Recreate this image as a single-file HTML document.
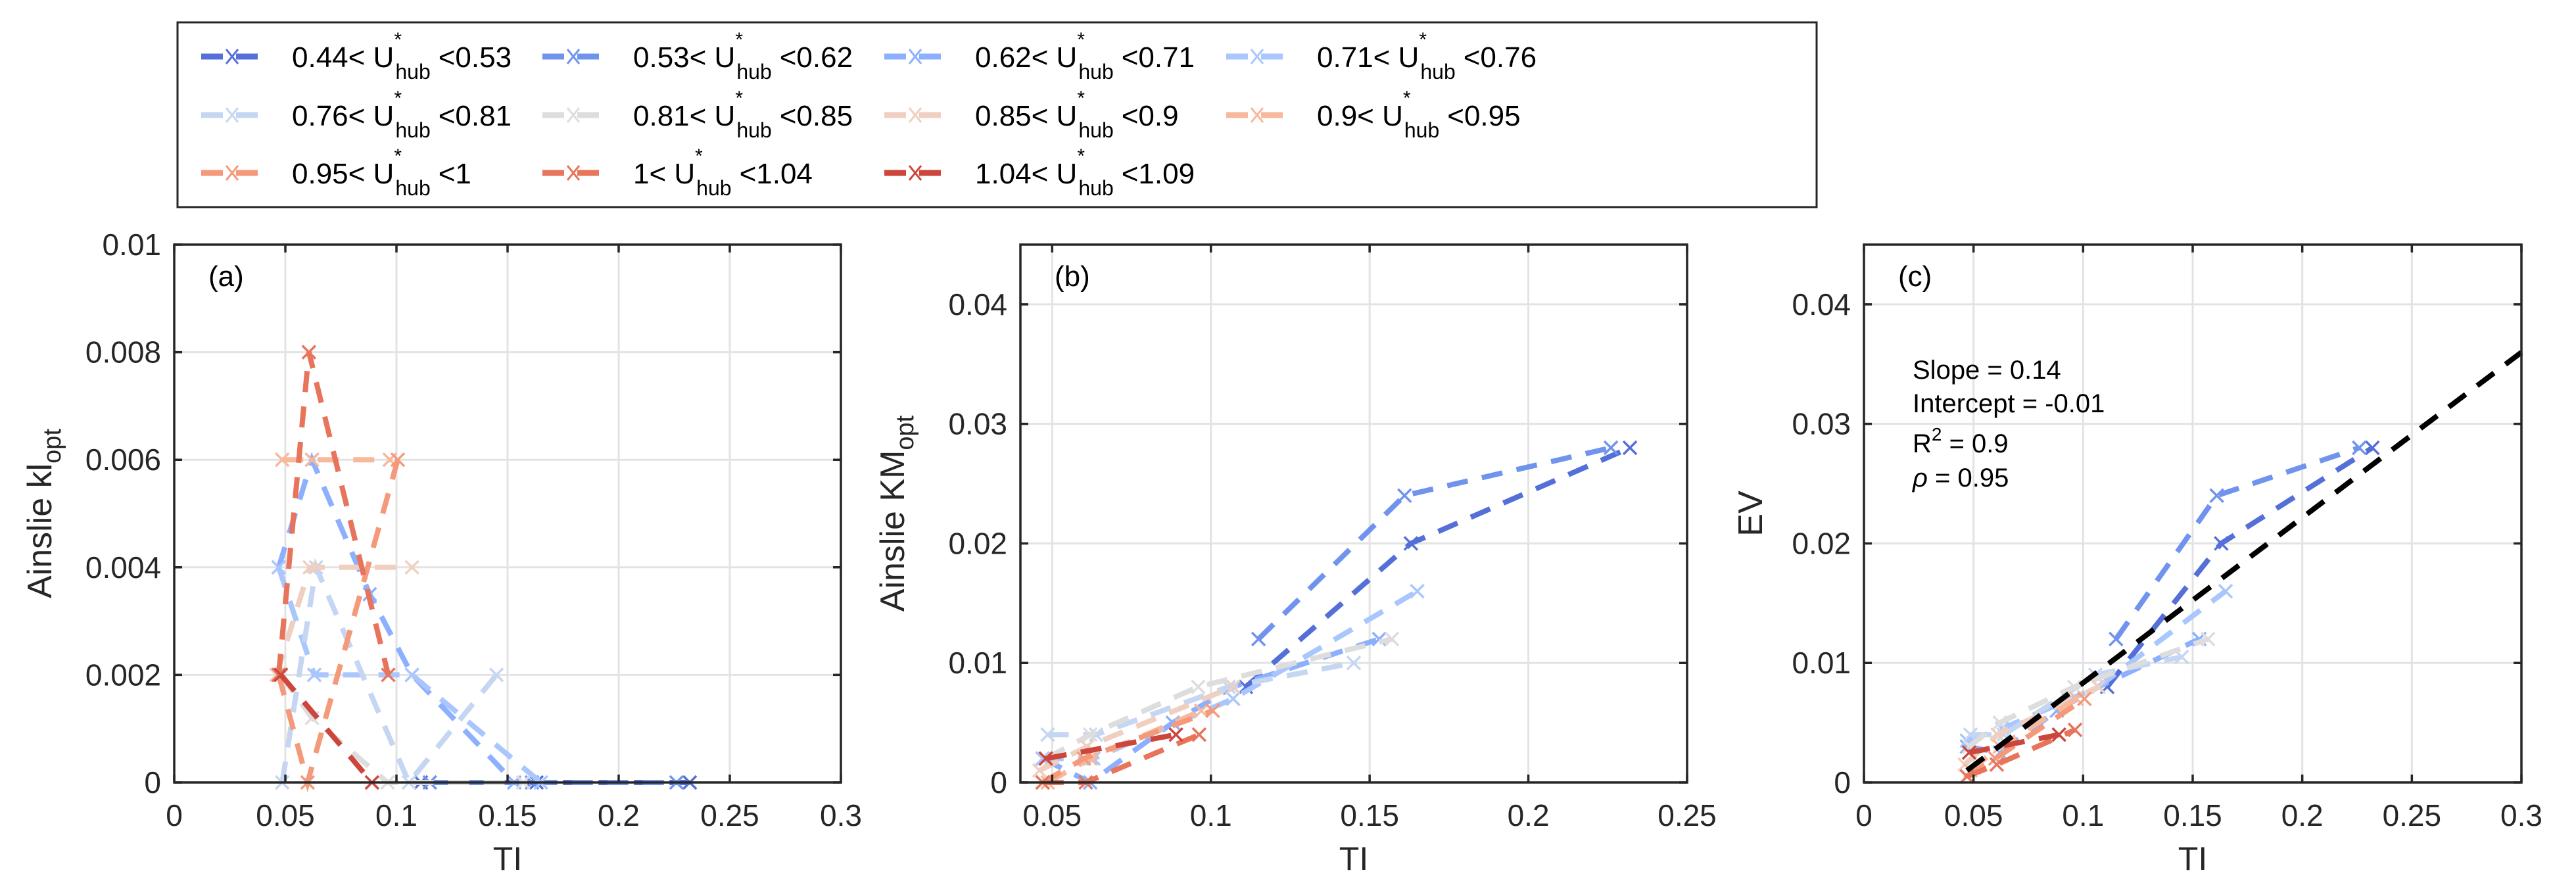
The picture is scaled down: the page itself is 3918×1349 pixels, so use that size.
<!DOCTYPE html>
<html><head><meta charset="utf-8"><style>
html,body{margin:0;padding:0;background:#fff;}
svg{display:block;font-family:"Liberation Sans",sans-serif;}
</style></head><body>
<svg id="fig" width="3918" height="1349" viewBox="0 0 3918 1349" xmlns="http://www.w3.org/2000/svg"></svg>
<script>
// ---- data ----
const seriesLabels = [["0.44","0.53"],["0.53","0.62"],["0.62","0.71"],["0.71","0.76"],["0.76","0.81"],["0.81","0.85"],["0.85","0.9"],["0.9","0.95"],["0.95","1"],["1","1.04"],["1.04","1.09"]];
const seriesColors = ["#5470d8","#7094ee","#8db0fe","#a9c6fd","#c5d6f2","#dddddd","#efcfbf","#f7b89c","#f49a7b","#e7745b","#cd463c"];
const tiValues = [
 [0.111,0.163,0.232],
 [0.115,0.161,0.226],
 [0.047,0.062,0.088,0.107,0.153],
 [0.047,0.063,0.107,0.165],
 [0.0486,0.0638,0.1056,0.145],
 [0.048,0.062,0.096,0.157],
 [0.046,0.061,0.107],
 [0.0486,0.062,0.097],
 [0.047,0.060,0.1006],
 [0.047,0.0606,0.0963],
 [0.048,0.089]
];
const klValues = [
 [0,0,0],[0,0,0],[0.004,0.006,0.0035,0.002,0],[0.004,0.002,0.002,0],[0,0.004,0,0.002],
 [0.002,0.0012,0,0],[0.002,0.004,0.004],[0.006,0.006,0.006],[0.002,0,0.006],[0.002,0.008,0.002],[0.002,0]
];
const kmValues = [
 [0.008,0.020,0.028],[0.012,0.024,0.028],[0.002,0,0.005,0.008,0.012],[0.002,0.002,0.007,0.016],[0.004,0.004,0.008,0.010],
 [0.002,0.004,0.008,0.012],[0.001,0.003,0.008],[0,0.002,0.006],[0,0.002,0.006],[0,0,0.004],[0.002,0.004]
];
const evValues = [
 [0.008,0.020,0.028],[0.012,0.024,0.028],[0.003,0.0025,0.006,0.008,0.012],[0.0035,0.0045,0.008,0.016],[0.004,0.004,0.009,0.0105],
 [0.003,0.005,0.008,0.012],[0.0015,0.004,0.008],[0.001,0.003,0.007],[0.0005,0.002,0.007],[0.0005,0.0015,0.0044],[0.0025,0.004]
];
const fitSlope = 0.1383, fitIntercept = -0.0055;
const fitRange = [0.047, 0.3];
const xTicksA = [0,0.05,0.1,0.15,0.2,0.25,0.3];
const xTicksB = [0.05,0.1,0.15,0.2,0.25];
const yTicksA = [0,0.002,0.004,0.006,0.008,0.01];
const yTicksB = [0,0.01,0.02,0.03,0.04];

const NS="http://www.w3.org/2000/svg";
const svg=document.getElementById('fig');
function el(tag,attrs,parent){const e=document.createElementNS(NS,tag);for(const k in attrs)e.setAttribute(k,attrs[k]);(parent||svg).appendChild(e);return e;}

function drawPanel(p){
  const g=el('g',{});
  
  
  const sx=v=>p.x0+(v-p.xmin)/(p.xmax-p.xmin)*(p.x1-p.x0);
  const sy=v=>p.y1-(v-p.ymin)/(p.ymax-p.ymin)*(p.y1-p.y0);
  // grid
  p.xt.forEach(t=>{const x=sx(t);const l=el('line',{x1:x,x2:x,y1:p.y0,y2:p.y1,stroke:'#e3e3e3','stroke-width':3},g);
    });
  p.yt.forEach(t=>{const y=sy(t);const l=el('line',{x1:p.x0,x2:p.x1,y1:y,y2:y,stroke:'#e3e3e3','stroke-width':3},g);
    });
  // series
  for(let s=0;s<tiValues.length;s++){
    const xs=tiValues[s], ys=p.vals[s];
    const pts=xs.map((v,i)=>sx(v)+','+sy(ys[i])).join(' ');
    const pl=el('polyline',{points:pts,fill:'none',stroke:seriesColors[s],'stroke-width':8,'stroke-dasharray':'32 22'},g);
    
    
    xs.forEach((v,i)=>{const cx=sx(v),cy=sy(ys[i]),r=10;
      const m=el('path',{d:`M${cx-r},${cy-r}L${cx+r},${cy+r}M${cx-r},${cy+r}L${cx+r},${cy-r}`,stroke:seriesColors[s],'stroke-width':3.5,fill:'none'},g);
      
      });
  }
  if(p.fit){
    const l=el('line',{x1:sx(fitRange[0]),y1:sy(fitSlope*fitRange[0]+fitIntercept),x2:sx(fitRange[1]),y2:sy(fitSlope*fitRange[1]+fitIntercept),stroke:'#000','stroke-width':8,'stroke-dasharray':'32 22'},g);
    
  }
  // box
  const b=el('rect',{x:p.x0,y:p.y0,width:p.x1-p.x0,height:p.y1-p.y0,fill:'none',stroke:'#262626','stroke-width':3.5},g);
  
  p.xt.forEach(t=>{const x=sx(t);
    el('path',{d:`M${x},${p.y1}v-12M${x},${p.y0}v12`,stroke:'#262626','stroke-width':3.5},g);
    const tx=el('text',{x:x,y:p.y1+66,'text-anchor':'middle','font-size':46,fill:'#262626'},g);tx.textContent=String(t);
    });
  p.yt.forEach(t=>{const y=sy(t);
    el('path',{d:`M${p.x0},${y}h12M${p.x1},${y}h-12`,stroke:'#262626','stroke-width':3.5},g);
    const tx=el('text',{x:p.x0-20,y:y+16,'text-anchor':'end','font-size':46,fill:'#262626'},g);tx.textContent=String(t);
    });
  const xl=el('text',{x:(p.x0+p.x1)/2,y:p.y1+133,'text-anchor':'middle','font-size':50,fill:'#262626'},g);xl.textContent='TI';
  
  const yl=el('text',{transform:`translate(${p.ylx},${(p.y0+p.y1)/2}) rotate(-90)`,'text-anchor':'middle','font-size':52,fill:'#262626'},g);
  yl.innerHTML=p.ylab;
  
  const pl=el('text',{x:p.x0+52,y:p.y0+63,'font-size':44,fill:'#000'},g);pl.textContent=p.tag;
  
  return g;
}
drawPanel({name:'panel-a',x0:265,x1:1279,y0:372,y1:1190,xmin:0,xmax:0.3,ymin:0,ymax:0.01,xt:xTicksA,yt:yTicksA,vals:klValues,tag:'(a)',ylx:78,
  ylab:'Ainslie kl<tspan font-size="38" dy="14">opt</tspan>'});
drawPanel({name:'panel-b',x0:1552,x1:2566,y0:372,y1:1190,xmin:0.04,xmax:0.25,ymin:0,ymax:0.045,xt:xTicksB,yt:yTicksB,vals:kmValues,tag:'(b)',ylx:1375,
  ylab:'Ainslie KM<tspan font-size="38" dy="14">opt</tspan>'});
const pc=drawPanel({name:'panel-c',x0:2835,x1:3835,y0:372,y1:1190,xmin:0,xmax:0.3,ymin:0,ymax:0.045,xt:xTicksA,yt:yTicksB,vals:evValues,tag:'(c)',ylx:2680,ylab:'EV',fit:true});
// annotation
const ann=[['Slope = 0.14',576],['Intercept = -0.01',627],['R<tspan font-size="28" dy="-18">2</tspan><tspan dy="18"> = 0.9</tspan>',688],['<tspan font-style="italic">ρ</tspan> = 0.95',740]];
ann.forEach(a=>{const t=el('text',{x:2909,y:a[1],'font-size':40,fill:'#000'});t.innerHTML=a[0];
  
  });

// legend
const lg=el('g',{});


el('rect',{x:270,y:34,width:2493,height:281,fill:'#fff',stroke:'#262626','stroke-width':3},lg);
const colX=[306,825,1345,1865], rowY=[86,175,263];
seriesLabels.forEach((lab,i)=>{
  const c=i%4, r=Math.floor(i/4);
  const x=colX[c], y=rowY[r];
  const eg=el('g',{},lg);
  
  
  el('line',{x1:x,x2:x+95,y1:y,y2:y,stroke:seriesColors[i],'stroke-width':9,'stroke-dasharray':'33 20'},eg);
  el('path',{d:`M${x+47-9},${y-11}L${x+47+9},${y+11}M${x+47-9},${y+11}L${x+47+9},${y-11}`,stroke:seriesColors[i],'stroke-width':3,fill:'none'},eg);
  const t1=el('text',{x:x+138,y:y+16,'font-size':44,fill:'#000'},eg);t1.textContent=lab[0]+'< U';
  const w=t1.getComputedTextLength();
  const st=el('text',{x:x+138+w,y:y-16,'font-size':30,fill:'#000'},eg);st.textContent='*';
  const hb=el('text',{x:x+138+w+2,y:y+34,'font-size':32,fill:'#000'},eg);hb.textContent='hub';
  const hw=hb.getComputedTextLength();
  const t2=el('text',{x:x+138+w+hw+14,y:y+16,'font-size':44,fill:'#000'},eg);t2.textContent='<'+lab[1];
});
</script>
</body></html>
